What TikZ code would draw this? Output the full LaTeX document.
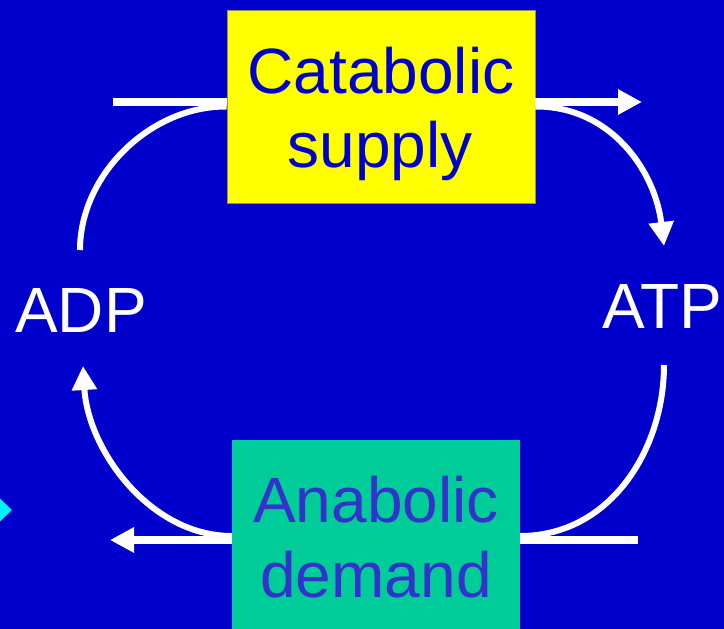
\documentclass[tikz,border=0pt]{standalone}
\usepackage{fontspec}
\setmainfont{Liberation Sans}
\usetikzlibrary{arrows.meta}
\definecolor{bg}{HTML}{0000CC}
\definecolor{boxyellow}{HTML}{FFFF00}
\definecolor{boxgreen}{HTML}{00CC99}
\definecolor{txtblue}{HTML}{0000CC}
\definecolor{txtviolet}{HTML}{3333CC}
\definecolor{cyanmark}{HTML}{00F0FF}
\begin{document}
\begin{tikzpicture}[x=1pt,y=-1pt,
  flow/.style={draw=white, line width=8pt},
  arcflow/.style={draw=white, line width=6pt},
  head/.style={-{Triangle[length=24pt,width=24pt]}},
  bigtext/.style={font=\fontsize{64}{74}\selectfont, inner sep=0pt, anchor=base},
  box/.style={rectangle, inner sep=0pt}]
\useasboundingbox (0,0) rectangle (724,629);
\clip (0,0) rectangle (724,629);
\fill[bg] (0,0) rectangle (724,629);
% cyan mark at left edge
\fill[cyanmark] (-12,487) -- (12,510) -- (-12,533) -- cycle;
% boxes
\node[box, fill=boxyellow, draw=yellow!55!black, line width=0.8pt,
      minimum width=308pt, minimum height=193pt] (cat) at (381,106.5) {};
\node[box, fill=boxgreen, minimum width=288pt, minimum height=200pt] (ana) at (376,540) {};
% texts
\node[bigtext, text=txtblue] (cat1) at (381,93) {Catabolic};
\node[bigtext, text=txtblue] (cat2) at (380,167) {supply};
\node[bigtext, text=txtviolet] (ana1) at (376,522) {Anabolic};
\node[bigtext, text=txtviolet] (ana2) at (376,597) {demand};
\node[bigtext, text=white] (adp) at (81,332) {ADP};
\node[bigtext, text=white] (atp) at (662,328) {ATP};
% free ends
\coordinate (tl) at (113,102);
\coordinate (tr) at (642,102);
\coordinate (adptop) at (80,250);
\coordinate (atptop) at (664,246);
\coordinate (adpbot) at (83,366);
\coordinate (atpbot) at (664,365);
\coordinate (bl) at (110,540);
\coordinate (br) at (638,540);
% connectors
\draw[flow] (tl) -- (cat.west |- tl);
\draw[flow, head] (cat.east |- tr) -- (tr);
\draw[arcflow] (cat.west) .. controls (150,106) and (80,175) .. (adptop);
\draw[arcflow, head] (cat.east) .. controls (610,106) and (655,170) .. (atptop);
\draw[flow, head] (ana.west) -- (bl);
\draw[flow] (ana.east) -- (br);
\draw[arcflow, head] ([yshift=4pt]ana.west) .. controls (150,536) and (88,450) .. (adpbot);
\draw[arcflow] ([yshift=4pt]ana.east) .. controls (610,536) and (664,450) .. (atpbot);
\end{tikzpicture}
\end{document}
